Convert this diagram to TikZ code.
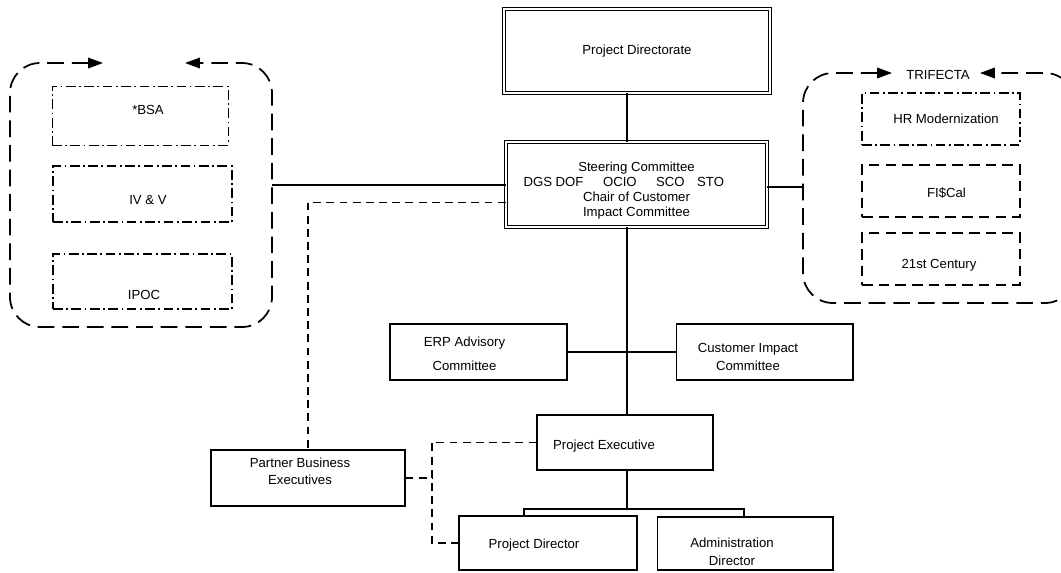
\documentclass[tikz,border=0pt]{standalone}
\usepackage{fontspec}
\setmainfont{Liberation Sans}
\usepackage{tikz}
\usetikzlibrary{arrows.meta}

\tikzset{
  lbl/.style={font=\fontsize{7.5}{8.6}\selectfont, align=center},
  box/.style={draw, line width=0.6pt, lbl},
  dbox/.style={box, double, double distance=1.4pt, line width=0.5pt},
  dashdotbox/.style={box, line width=0.9pt, dash pattern=on 5.5pt off 2pt on 1pt off 2pt},
  dashbox/.style={box, line width=0.9pt, dash pattern=on 6pt off 3.5pt},
  grpline/.style={line width=1pt, dash pattern=on 9.5pt off 4.5pt, rounded corners=0.6cm,
    {Triangle[length=8.5pt,width=6pt]}-{Triangle[length=8.5pt,width=6pt]}},
  dashline/.style={line width=0.6pt, dash pattern=on 4.5pt off 3pt},
  conn/.style={line width=0.6pt}
}

\begin{document}
\begin{tikzpicture}[x=0.02cm, y=-0.02cm]
  \useasboundingbox (0,0) rectangle (1061,572);
  \clip (0,0) rectangle (1061,572);

  % top of the chart
  \node[dbox, minimum width=5.32cm, minimum height=1.68cm] (dir) at (637,51) {Project Directorate};
  \node[dbox, minimum width=5.22cm, minimum height=1.7cm,
    label={[lbl, shift={(0,6)}]center:{Steering Committee\\DGS DOF\hspace{9pt} OCIO\hspace{9pt} SCO\hspace{5pt} STO\kern14.5pt\\Chair of Customer\\Impact Committee}}]
    (steer) at (636.5,184.5) {};

  % left group
  \draw[grpline] (103,63) -- (10,63) -- (10,327) -- (272,327) -- (272,63) -- (185,63);
  \node[box, line width=0.5pt, dash pattern=on 5.5pt off 2pt on 1pt off 2pt,
    minimum width=3.52cm, minimum height=1.18cm, label={[lbl, shift={(8,-5.5)}]center:*BSA}] (bsa) at (140,115.5) {};
  \node[dashdotbox, minimum width=3.58cm, minimum height=1.12cm,
    label={[lbl, shift={(5.5,6)}]center:IV \& V}] (ivv) at (142.5,194) {};
  \node[dashdotbox, minimum width=3.58cm, minimum height=1.1cm,
    label={[lbl, shift={(1.5,13.5)}]center:IPOC}] (ipoc) at (142.5,281.5) {};

  % right group
  \draw[grpline] (892,73) -- (803,73) -- (803,303) -- (1075,303) -- (1075,73) -- (980,73);
  \node[lbl] (trifecta) at (938,75) {TRIFECTA};
  \node[dashdotbox, minimum width=3.16cm, minimum height=1.04cm,
    label={[lbl, shift={(5,0)}]center:HR Modernization}] (hr) at (941,119) {};
  \node[dashbox, minimum width=3.16cm, minimum height=1.04cm,
    label={[lbl, shift={(5.5,2)}]center:FI\$Cal}] (fiscal) at (941,191) {};
  \node[dashbox, minimum width=3.16cm, minimum height=1.04cm,
    label={[lbl, shift={(-2,6)}]center:21st Century}] (c21) at (941,259) {};

  % committees and executives
  \node[box, minimum width=3.54cm, minimum height=1.12cm,
    label={[lbl, shift={(-14,2)}]center:{ERP Advisory\\[5pt]Committee}}] (erp) at (478.5,352) {};
  \node[box, minimum width=3.54cm, minimum height=1.12cm,
    label={[lbl, shift={(-16.5,5)}]center:{Customer Impact\\[1.6pt]Committee}}] (cic) at (764.5,352) {};
  \node[box, minimum width=3.52cm, minimum height=1.1cm,
    label={[lbl, shift={(-21,3.5)}]center:Project Executive}] (pe) at (625,442.5) {};
  \node[box, minimum width=3.88cm, minimum height=1.12cm,
    label={[lbl, shift={(-8,-6.5)}]center:{Partner Business\\[1pt]Executives}}] (pbe) at (308,478) {};
  \node[box, minimum width=3.56cm, minimum height=1.08cm,
    label={[lbl, shift={(-14,2)}]center:Project Director}] (pd) at (548,543) {};
  \node[box, minimum width=3.52cm, minimum height=1.06cm,
    label={[lbl, shift={(-13,8.5)}]center:{Administration\\[1.6pt]Director}}] (ad) at (745,543.5) {};

  % helper points
  \coordinate (sp) at (627,0);
  \coordinate (lg) at (272,185);
  \coordinate (rg) at (803,187);
  \coordinate (brk) at (432,0);
  \coordinate (busl) at (524,509);
  \coordinate (busr) at (744,509);

  % solid connectors
  \draw[conn] (dir.south -| sp) -- (steer.north -| sp);
  \draw[conn] (steer.south -| sp) -- (pe.north -| sp);
  \draw[conn] (erp.east) -- (cic.west);
  \draw[conn] (lg) -- (lg -| steer.west);
  \draw[conn] (rg -| steer.east) -- (rg);
  \draw[conn] (pe.south -| sp) -- (sp |- busl);
  \draw[conn] (pd.north -| busl) -- (busl) -- (busr) -- (ad.north -| busr);

  % dashed connectors
  \draw[dashline] ([yshift=-18*0.02cm]steer.west) -| (pbe.north);
  \draw[dashline] (pe.west) -- (pe.west -| brk) -- (pd.west -| brk) -- (pd.west);
  \draw[dashline] (pbe.east) -- (pbe.east -| brk);
\end{tikzpicture}
\end{document}
